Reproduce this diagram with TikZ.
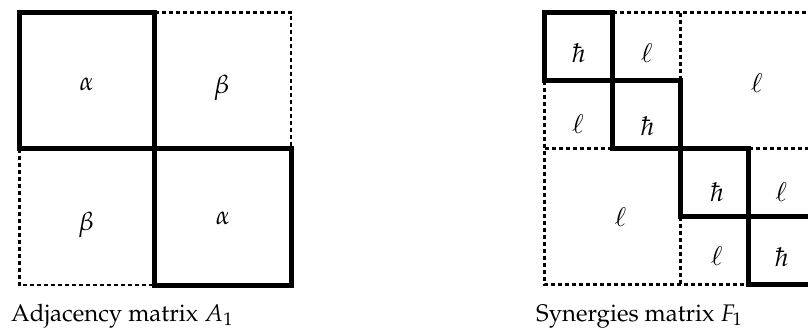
\documentclass[tikz,border=0pt]{standalone}
\usepackage[T1]{fontenc}
\usepackage{mathpazo}
\begin{document}
\begin{tikzpicture}[x=1pt,y=-1pt,
  thickline/.style={line width=5pt, line join=miter},
  dashline/.style={line width=2.4pt, dash pattern=on 4pt off 3pt},
  lab/.style={inner sep=0pt, anchor=base, font=\fontsize{26}{30}\selectfont},
  captext/.style={inner sep=0pt, anchor=base west, font=\fontsize{24}{28}\selectfont}]
\useasboundingbox (0,0) rectangle (808,330);
\clip (0,0) rectangle (808,330);
% ---------- left: adjacency matrix ----------
\draw[dashline] (154.5,12.5) -- (291,12.5) -- (291,148.5);
\draw[dashline] (19.5,148.5) -- (19.5,285) -- (154.5,285);
\draw[thickline] (19.5,12.5) rectangle (154.5,148.5);
\draw[thickline] (154.5,148.5) rectangle (291,285);
\node[lab] (a1) at (86.7,90) {$\alpha$};
\node[lab] (b1) at (221.7,93) {$\beta$};
\node[lab] (b2) at (86.2,230) {$\beta$};
\node[lab] (a2) at (223,224) {$\alpha$};
\node[captext] (capA) at (11,321) {Adjacency matrix $A_1$};
% ---------- right: synergies matrix ----------
\def\xa{544.5}\def\xb{612.5}\def\xc{680.5}\def\xd{748.5}\def\xe{816.5}
\def\ya{12.5}\def\yb{80.5}\def\yc{148.5}\def\yd{216.5}\def\ye{284.5}
\draw[dashline] (\xb,\ya) -- (\xe,\ya) -- (\xe,\yc);
\draw[dashline] (\xc,\ya) -- (\xc,\yb);
\draw[dashline] (\xd,\yc) -- (\xe,\yc);
\draw[dashline] (\xa,\yb) -- (\xa,\ye) -- (\xd,\ye);
\draw[dashline] (\xa,\yc) -- (\xb,\yc);
\draw[dashline] (\xc,\yd) -- (\xc,\ye);
\draw[thickline] (\xa,\ya) rectangle (\xb,\yb);
\draw[thickline] (\xb,\yb) rectangle (\xc,\yc);
\draw[thickline] (\xc,\yc) rectangle (\xd,\yd);
\draw[thickline] (\xd,\yd) rectangle (\xe,\ye);
\node[lab] (h1) at (578.8,62.3) {$\hbar$};
\node[lab] (l12) at (646.7,62.3) {$\ell$};
\node[lab] (lbig1) at (756.7,92) {$\ell$};
\node[lab] (l21) at (578,133.5) {$\ell$};
\node[lab] (h2) at (647.5,135) {$\hbar$};
\node[lab] (lbig2) at (620.5,226.5) {$\ell$};
\node[lab] (h3) at (717,201.5) {$\hbar$};
\node[lab] (l34) at (781.3,201.5) {$\ell$};
\node[lab] (l43) at (716.7,265) {$\ell$};
\node[lab] (h4) at (781.7,266) {$\hbar$};
\node[captext] (capF) at (536,321) {Synergies matrix $F_1$};
\end{tikzpicture}
\end{document}
